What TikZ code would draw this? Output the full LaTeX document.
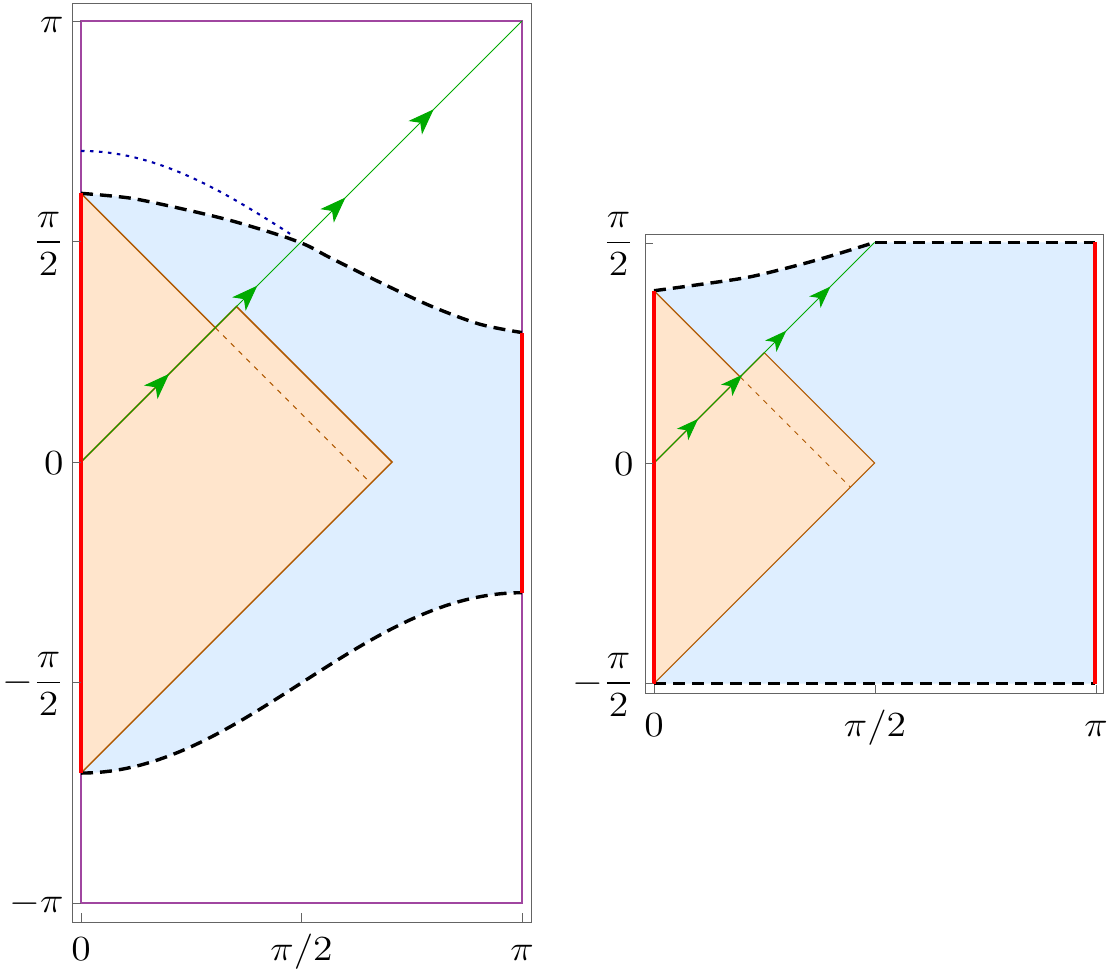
\documentclass[tikz,border=0pt]{standalone}
\usepackage{amsmath}
\usetikzlibrary{arrows.meta,decorations.markings}
\definecolor{bluefill}{RGB}{222,238,255}
\definecolor{orfill}{RGB}{255,229,204}
\definecolor{brownline}{RGB}{175,88,0}
\definecolor{grn}{RGB}{0,170,0}
\definecolor{dotblue}{RGB}{0,0,170}
\definecolor{purp}{RGB}{160,70,160}
\definecolor{framegray}{RGB}{100,100,100}
\newcommand{\lblbox}[1]{\scalebox{2.75}[2.45]{\Large #1}}
\tikzset{
  framebox/.style={draw=framegray, line width=1pt},
  tickline/.style={draw=framegray, line width=1pt},
  lbl/.style={inner sep=0pt, outer sep=0pt},
  ylbl/.style={lbl, anchor=base east},
  xlbl/.style={lbl, anchor=base},
  redline/.style={draw=red, line width=3.6pt},
  bdash/.style={draw=black, line width=3.4pt, dash pattern=on 12pt off 7pt},
  brownedge/.style={draw=brownline, line width=1.5pt, line join=miter},
  browndash/.style={draw=brownline, line width=1pt, dash pattern=on 5pt off 6pt},
  bluedot/.style={draw=dotblue, line width=2.1pt, dash pattern=on 3.5pt off 5.5pt},
  purpbox/.style={draw=purp, line width=1.15pt},
  greenL/.style={draw=grn, line width=1pt, postaction={decorate},
    decoration={markings,
      mark=at position 0.2 with {\arrow{Stealth[length=26pt,width=19pt,inset=7pt]}},
      mark=at position 0.4 with {\arrow{Stealth[length=26pt,width=19pt,inset=7pt]}},
      mark=at position 0.6 with {\arrow{Stealth[length=26pt,width=19pt,inset=7pt]}},
      mark=at position 0.8 with {\arrow{Stealth[length=26pt,width=19pt,inset=7pt]}}}},
  greenR/.style={draw=grn, line width=0.9pt, postaction={decorate},
    decoration={markings,
      mark=at position 0.2 with {\arrow{Stealth[length=22pt,width=16pt,inset=6pt]}},
      mark=at position 0.4 with {\arrow{Stealth[length=22pt,width=16pt,inset=6pt]}},
      mark=at position 0.6 with {\arrow{Stealth[length=22pt,width=16pt,inset=6pt]}},
      mark=at position 0.8 with {\arrow{Stealth[length=22pt,width=16pt,inset=6pt]}}}}
}
\begin{document}
\begin{tikzpicture}[x=1pt,y=1pt]
\useasboundingbox (0,0) rectangle (1109,-972);
% ================= LEFT PLOT =================
\begin{scope}[shift={(81pt,-462pt)}, x=140.37pt, y=140.37pt]
  \draw[purpbox] (0,-pi) rectangle (pi,pi);
  \fill[bluefill] (0,-2.216) -- (0,1.914)
     -- plot[smooth] coordinates {(0,1.914) (0.35,1.880) (0.70,1.808) (1.06,1.722) (1.42,1.614) (1.61,1.543) (1.77,1.458) (2.13,1.280) (2.49,1.112) (2.84,0.982) (3.1416,0.922)}
     -- (pi,-0.931)
     -- plot[domain=pi:0, samples=60] (\x,{-(1.5735+0.6425*cos(\x r))})
     -- cycle;
  \fill[orfill] (0,1.914) -- (0.957,0.957) -- (1.108,1.108) -- (2.216,0) -- (0,-2.216) -- cycle;
  \draw[brownedge] (0,1.914) -- (0.957,0.957) -- (1.108,1.108) -- (2.216,0) -- (0,-2.216);
  \draw[brownedge] (0,0) -- (0.957,0.957);
  \draw[browndash] (0.957,0.957) -- (2.065,-0.151);
  \coordinate (gL0) at (0,0);
  \coordinate (gL1) at (pi,pi);
  \draw[greenL] (gL0) -- (gL1);
  \draw[bluedot] plot[domain=0:1.49, samples=40] (\x,{1.5735+0.6425*cos(\x r)});
  \draw[bdash] plot[smooth] coordinates {(0,1.914) (0.35,1.880) (0.70,1.808) (1.06,1.722) (1.42,1.614) (1.61,1.543) (1.77,1.458) (2.13,1.280) (2.49,1.112) (2.84,0.982) (3.1416,0.922)};
  \draw[bdash] plot[domain=0:pi, samples=60] (\x,{-(1.5735+0.6425*cos(\x r))});
  \draw[redline] (0,-2.216) -- (0,1.914);
  \draw[redline] (pi,-0.931) -- (pi,0.922);
\end{scope}
\draw[framebox] (72,-3) rectangle (531,-922);
\foreach \yy in {21,241.5,462,682.5,903} \draw[tickline] (72,-\yy) -- (81,-\yy);
\foreach \xx in {81,301.5,522} \draw[tickline] (\xx,-922) -- (\xx,-913);
\node[ylbl] (L1) at (63.5,-32.5) {\lblbox{$\pi$}};
\node[ylbl] (L2) at (63.5,-251) {\lblbox{$\dfrac{\pi}{2}$}};
\node[ylbl] (L3) at (63.5,-474.5) {\lblbox{$0$}};
\node[ylbl] (L4) at (63.5,-691.5) {\lblbox{$-\dfrac{\pi}{2}$}};
\node[ylbl] (L5) at (63.5,-912) {\lblbox{$-\pi$}};
\node[xlbl] (L6) at (81,-960) {\lblbox{$0$}};
\node[xlbl] (L7) at (301.5,-960) {\lblbox{$\pi/2$}};
\node[xlbl] (L8) at (522,-960) {\lblbox{$\pi$}};
% ================= RIGHT PLOT =================
\begin{scope}[shift={(654pt,-463pt)}, x=140.4pt, y=140.4pt]
  \fill[bluefill] (0,-pi/2) -- (0,1.227)
     -- plot[smooth] coordinates {(0,1.227) (0.33,1.272) (0.68,1.325) (1.04,1.413) (1.30,1.487) (1.5708,1.5708)}
     -- (pi,pi/2) -- (pi,-pi/2) -- cycle;
  \fill[orfill] (0,1.227) -- (0.6135,0.6135) -- (0.7854,0.7854) -- (1.5708,0) -- (0,-1.5708) -- cycle;
  \draw[brownedge, line width=1.1pt] (0,1.227) -- (0.6135,0.6135) -- (0.7854,0.7854) -- (1.5708,0) -- (0,-1.5708);
  \draw[brownedge, line width=1.1pt] (0,0) -- (0.6135,0.6135);
  \draw[browndash] (0.6135,0.6135) -- (1.399,-0.172);
  \coordinate (gR0) at (0,0);
  \coordinate (gR1) at (1.5708,1.5708);
  \draw[greenR] (gR0) -- (gR1);
  \draw[bdash] plot[smooth] coordinates {(0,1.227) (0.33,1.272) (0.68,1.325) (1.04,1.413) (1.30,1.487) (1.5708,1.5708)};
  \draw[bdash] (1.5708,1.5708) -- (pi,1.5708);
  \draw[bdash] (0,-1.5708) -- (pi,-1.5708);
  \draw[redline] (0,-1.5708) -- (0,1.227);
  \draw[redline] (pi,-1.5708) -- (pi,1.5708);
\end{scope}
\draw[framebox] (645,-234) rectangle (1103,-693);
\foreach \yy in {243,463,683} \draw[tickline] (645,-\yy) -- (653,-\yy);
\foreach \xx in {654,875,1096} \draw[tickline] (\xx,-693) -- (\xx,-685);
\node[ylbl] (R1) at (633.5,-251.5) {\lblbox{$\dfrac{\pi}{2}$}};
\node[ylbl] (R2) at (633.5,-475) {\lblbox{$0$}};
\node[ylbl] (R3) at (633.5,-692) {\lblbox{$-\dfrac{\pi}{2}$}};
\node[xlbl] (R4) at (654,-736) {\lblbox{$0$}};
\node[xlbl] (R5) at (875,-736) {\lblbox{$\pi/2$}};
\node[xlbl] (R6) at (1096,-736) {\lblbox{$\pi$}};
\end{tikzpicture}
\end{document}
